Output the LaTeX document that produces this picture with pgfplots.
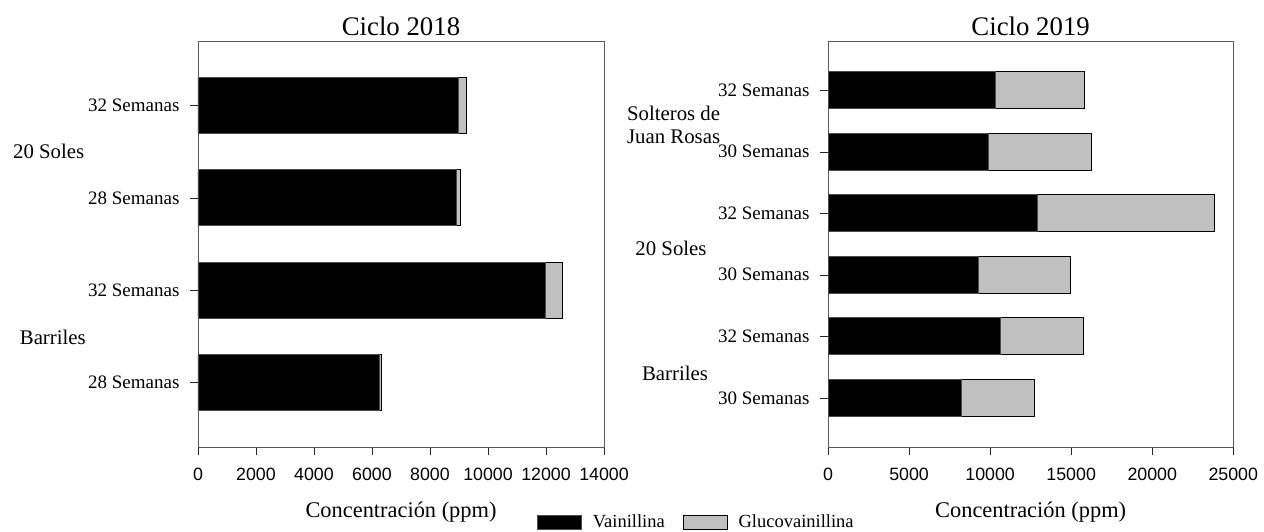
\documentclass[border=0pt]{standalone}
\usepackage{fontspec}
\setmainfont{Liberation Serif}
\newfontfamily\sansfont{Liberation Sans}
\usepackage{pgfplots}
\pgfplotsset{compat=1.18}
\definecolor{glu}{HTML}{C0C0C0}

\pgfplotsset{
  conc/.style={
    xbar stacked, scale only axis, height=203pt,
    enlargelimits=false, xmin=0,
    ytick=data, tick align=outside, major tick length=4pt,
    xtick pos=bottom, ytick pos=left,
    axis line style={black!65},
    tick style={black!85},
    scaled x ticks=false,
    /pgf/number format/assume math mode=true,
    xticklabel style={font=\sansfont\fontsize{8.9}{10}\selectfont, /pgf/number format/1000 sep={}, yshift=-3pt},
    yticklabel style={font=\fontsize{9.5}{11}\selectfont, xshift=-1.75pt},
    title style={font=\fontsize{13.4}{15}\selectfont, at={(0.5,1)}, anchor=base, yshift=-3pt},
    xlabel={Concentración (ppm)},
    xlabel style={font=\fontsize{11.2}{13}\selectfont, at={(axis description cs:0.5,-0.16)}, anchor=center},
    legend image code/.code={\draw[#1] (0pt,-3.5pt) rectangle (22pt,3.5pt);},
  },
  vai/.style={fill=black, draw=black!70, line width=0.4pt},
  glc/.style={fill=glu, draw=black, line width=0.4pt},
}

\begin{document}
\begin{tikzpicture}
\path[use as bounding box] (0,0) rectangle (632pt,-265.5pt);

\begin{axis}[conc, at={(99pt,-223.5pt)}, anchor=south west,
    width=203pt, bar width=28pt,
    title={Ciclo 2018},
    xmax=14000, xtick={0,2000,...,14000},
    ymin=-0.7, ymax=3.7,
    yticklabels={28 Semanas,32 Semanas,28 Semanas,32 Semanas},
    legend style={at={(axis description cs:1.230,-0.185)}, anchor=center,
      draw=none, fill=none, legend columns=2,
      font=\fontsize{9.25}{11}\selectfont,
      /tikz/every odd column/.append style={column sep=3.5pt},
      /tikz/every even column/.append style={column sep=7pt}}]
\addplot[vai] coordinates {(6270,0) (11980,1) (8900,2) (8980,3)};
\addplot[glc] coordinates {(70,0) (600,1) (160,2) (270,3)};
\legend{Vainillina,Glucovainillina}
\end{axis}

\begin{axis}[conc, at={(414pt,-223.5pt)}, anchor=south west,
    width=202.65pt, bar width=18.5pt,
    title={Ciclo 2019},
    xmax=25000, xtick={0,5000,...,25000},
    ymin=-0.8, ymax=5.8,
    yticklabels={30 Semanas,32 Semanas,30 Semanas,32 Semanas,30 Semanas,32 Semanas}]
\addplot[vai] coordinates {(8200,0) (10630,1) (9290,2) (12930,3) (9870,4) (10300,5)};
\addplot[glc] coordinates {(4530,0) (5120,1) (5660,2) (10900,3) (6370,4) (5510,5)};
\end{axis}

\begin{scope}[x=0.5pt,y=-0.5pt, every node/.style={font=\fontsize{10.4}{11.3}\selectfont, inner sep=0pt}]
\node at (48.7,151.7) {20 Soles};
\node at (52.8,337) {Barriles};
\node[align=left, anchor=west] at (626.7,124.6) {Solteros de\\Juan Rosas};
\node at (671,248) {20 Soles};
\node at (675,373) {Barriles};
\end{scope}
\end{tikzpicture}
\end{document}
